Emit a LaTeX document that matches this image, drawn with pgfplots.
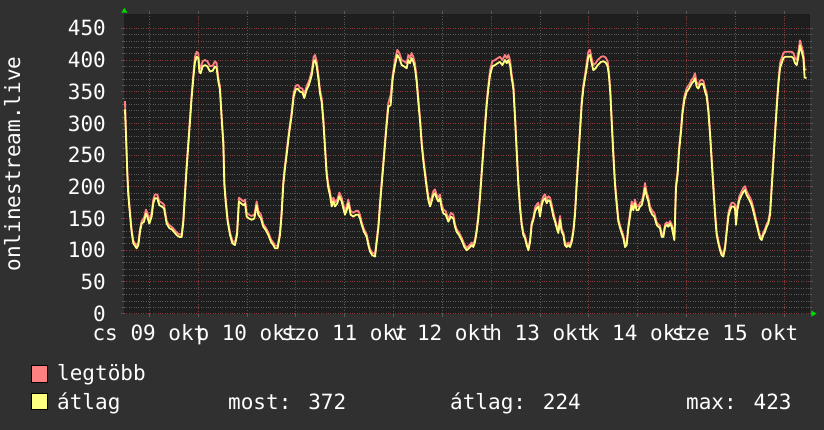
\documentclass[border=0pt]{standalone}
\usepackage{fontspec}
\setmainfont{DejaVu Sans Mono}
\usepackage{pgfplots}
\pgfplotsset{compat=1.18}

\definecolor{outerbg}{HTML}{303030}
\definecolor{canvasbg}{HTML}{1E1E1E}
\definecolor{mingrid}{HTML}{5A5A5A}
\definecolor{majgrid}{HTML}{8A3A3A}
\definecolor{maxcol}{HTML}{FF8080}
\definecolor{avgcol}{HTML}{FFFF80}
\definecolor{arrowgreen}{HTML}{00DD00}
\newcommand{\fsz}{\fontsize{21}{25}\selectfont}

\begin{document}
\begin{tikzpicture}
\fill[outerbg] (0,0) rectangle (824pt,430pt);
\begin{axis}[
  at={(124pt,116.4pt)}, anchor=south west,
  scale only axis, width=685.5pt, height=299.6pt,
  xmin=0.239, xmax=7.262, ymin=0, ymax=472.6,
  axis background/.style={fill=canvasbg},
  axis line style={draw=none},
  xtick={1,...,7}, xticklabels={},
  extra x ticks={0.5,1.5,...,6.5},
  extra x tick labels={cs 09 okt, p 10 okt, szo 11 okt, v 12 okt, h 13 okt, k 14 okt, sze 15 okt},
  extra x tick style={grid=major, major grid style={draw=mingrid, dotted, line width=0.8pt}},
  ytick={0,50,...,450},
  yticklabels={0,50,100,150,200,250,300,350,400,450},
  minor y tick num=4,
  grid=both,
  major grid style={draw=majgrid, dotted, line width=0.8pt},
  minor grid style={draw=mingrid, dotted, line width=0.8pt},
  tick align=outside, major tick length=3pt, minor tick length=2pt,
  every tick/.style={draw=mingrid, line width=0.8pt},
  xticklabel style={font=\fsz, text=white, anchor=base, yshift=-24.4pt},
  yticklabel style={font=\fsz, text=white, anchor=east, inner sep=0pt, xshift=-15pt},
]
\addplot[draw=maxcol, line width=1.8pt, no markers, line join=round] coordinates {
(0.249,335)(0.259,288)(0.273,225)(0.283,193)(0.300,162)(0.317,133)(0.334,115)(0.351,111)(0.369,107)(0.386,112)(0.403,133)(0.420,146)(0.444,151)(0.464,164)(0.478,159)(0.498,146)(0.522,159)(0.539,180)(0.556,188)(0.580,188)(0.601,177)(0.625,175)(0.649,172)(0.676,146)(0.703,139)(0.727,137)(0.751,133)(0.778,128)(0.806,125)(0.830,125)(0.847,149)(0.864,193)(0.881,235)(0.898,272)(0.915,309)(0.932,346)(0.949,377)(0.966,405)(0.983,413)(1.000,411)(1.011,390)(1.024,387)(1.045,398)(1.069,400)(1.093,398)(1.120,390)(1.147,391)(1.171,398)(1.188,395)(1.205,372)
(1.222,359)(1.239,314)(1.257,272)(1.267,209)(1.280,183)(1.301,149)(1.325,128)(1.349,115)(1.376,112)(1.397,128)(1.417,183)(1.438,180)(1.461,177)(1.479,180)(1.496,159)(1.520,156)(1.547,154)(1.574,156)(1.598,177)(1.615,162)(1.642,156)(1.666,141)(1.690,136)(1.718,128)(1.745,117)(1.769,112)(1.786,107)(1.813,107)(1.837,128)(1.854,162)(1.871,209)(1.888,235)(1.905,256)(1.929,288)(1.957,319)(1.977,348)(1.998,359)(2.018,361)(2.042,356)(2.066,355)(2.086,346)(2.110,359)(2.134,367)(2.162,382)(2.182,405)
(2.196,408)(2.213,398)(2.230,377)(2.247,353)(2.264,340)(2.281,309)(2.298,267)(2.315,225)(2.332,204)(2.349,193)(2.367,175)(2.384,183)(2.401,175)(2.425,180)(2.445,191)(2.469,183)(2.486,172)(2.503,162)(2.520,169)(2.537,180)(2.561,162)(2.589,159)(2.616,162)(2.640,162)(2.657,156)(2.674,144)(2.698,133)(2.725,125)(2.742,112)(2.759,102)(2.783,96)(2.811,94)(2.828,117)(2.845,139)(2.862,177)(2.879,209)(2.896,240)(2.913,272)(2.930,304)(2.947,332)(2.971,345)(2.992,377)(3.015,400)(3.039,416)(3.060,411)(3.084,400)(3.108,398)(3.135,395)
(3.152,408)(3.169,403)(3.186,411)(3.203,405)(3.220,395)(3.237,372)(3.254,340)(3.272,309)(3.289,272)(3.306,246)(3.323,225)(3.340,204)(3.357,185)(3.374,175)(3.391,183)(3.408,193)(3.425,196)(3.442,188)(3.459,183)(3.476,188)(3.494,172)(3.511,164)(3.534,162)(3.562,149)(3.589,159)(3.613,156)(3.630,141)(3.647,133)(3.671,128)(3.698,120)(3.726,109)(3.750,104)(3.773,107)(3.801,112)(3.818,109)(3.835,117)(3.852,133)(3.869,156)(3.886,188)(3.903,225)(3.920,261)(3.937,298)(3.955,335)(3.972,361)(3.989,384)(4.013,398)(4.040,400)(4.067,403)(4.091,405)(4.115,400)
(4.142,408)(4.160,403)(4.177,408)(4.194,400)(4.211,377)(4.228,361)(4.245,314)(4.262,261)(4.279,209)(4.296,172)(4.313,144)(4.330,128)(4.347,123)(4.364,112)(4.382,104)(4.399,117)(4.416,144)(4.433,152)(4.450,167)(4.467,172)(4.484,175)(4.501,159)(4.518,177)(4.535,185)(4.552,188)(4.569,180)(4.586,185)(4.603,183)(4.621,172)(4.638,159)(4.655,149)(4.672,139)(4.689,131)(4.706,154)(4.723,133)(4.740,128)(4.757,112)(4.774,109)(4.791,112)(4.808,109)(4.826,117)(4.843,133)(4.860,162)(4.877,209)(4.894,251)(4.911,293)(4.928,335)(4.945,361)(4.962,377)(4.979,395)(4.996,413)(5.013,416)(5.030,403)(5.047,392)(5.071,395)(5.092,400)
(5.126,405)(5.150,406)(5.174,404)(5.194,398)(5.208,380)(5.222,351)(5.235,309)(5.252,256)(5.269,209)(5.287,177)(5.304,149)(5.321,139)(5.338,131)(5.355,123)(5.372,109)(5.389,112)(5.406,139)(5.423,159)(5.440,177)(5.457,169)(5.474,180)(5.491,169)(5.508,169)(5.526,175)(5.543,177)(5.560,188)(5.577,206)(5.594,191)(5.611,183)(5.628,169)(5.652,162)(5.672,159)(5.696,144)(5.713,141)(5.730,139)(5.748,125)(5.765,125)(5.782,141)(5.799,144)(5.816,141)(5.833,146)(5.850,141)(5.867,128)(5.877,122)(5.884,151)(5.894,204)(5.911,225)(5.925,261)(5.946,293)(5.959,319)(5.980,343)(6.004,356)(6.028,361)(6.055,369)(6.072,372)
(6.089,379)(6.106,364)(6.123,361)(6.140,367)(6.157,369)(6.175,367)(6.192,356)(6.209,348)(6.226,324)(6.243,288)(6.260,246)(6.277,204)(6.294,162)(6.311,128)(6.328,115)(6.345,104)(6.362,96)(6.379,94)(6.397,107)(6.414,133)(6.431,159)(6.448,169)(6.465,175)(6.482,175)(6.499,172)(6.509,146)(6.523,169)(6.543,185)(6.567,193)(6.584,198)(6.601,201)(6.618,193)(6.636,188)(6.653,183)(6.670,177)(6.687,167)(6.704,156)(6.721,144)(6.738,133)(6.755,123)(6.772,120)(6.789,128)(6.806,133)(6.823,141)(6.840,146)(6.858,162)(6.875,204)(6.892,246)(6.909,288)(6.926,330)(6.943,367)(6.960,395)(6.977,403)(6.994,411)(7.011,413)(7.028,413)(7.045,413)(7.062,413)(7.079,413)(7.097,411)(7.114,403)(7.131,400)(7.148,413)(7.165,431)(7.182,421)(7.199,411)(7.212,385)(7.233,385)
};
\addplot[draw=avgcol, line width=1.8pt, no markers, line join=round] coordinates {
(0.249,322)(0.259,282)(0.273,219)(0.283,187)(0.300,156)(0.317,129)(0.334,111)(0.351,107)(0.369,103)(0.386,108)(0.403,129)(0.420,142)(0.444,145)(0.464,158)(0.478,153)(0.498,142)(0.522,153)(0.539,174)(0.556,182)(0.580,182)(0.601,171)(0.625,169)(0.649,166)(0.676,142)(0.703,135)(0.727,133)(0.751,129)(0.778,124)(0.806,121)(0.830,121)(0.847,145)(0.864,187)(0.881,229)(0.898,266)(0.915,303)(0.932,340)(0.949,371)(0.966,397)(0.983,405)(1.000,403)(1.011,382)(1.024,379)(1.045,390)(1.069,392)(1.093,390)(1.120,382)(1.147,383)(1.171,390)(1.188,387)(1.205,366)
(1.222,353)(1.239,308)(1.257,266)(1.267,203)(1.280,177)(1.301,145)(1.325,124)(1.349,111)(1.376,108)(1.397,124)(1.417,177)(1.438,174)(1.461,171)(1.479,174)(1.496,153)(1.520,150)(1.547,148)(1.574,150)(1.598,171)(1.615,156)(1.642,150)(1.666,137)(1.690,132)(1.718,124)(1.745,113)(1.769,108)(1.786,103)(1.813,103)(1.837,124)(1.854,156)(1.871,203)(1.888,229)(1.905,250)(1.929,282)(1.957,313)(1.977,342)(1.998,353)(2.018,355)(2.042,350)(2.066,349)(2.086,340)(2.110,353)(2.134,361)(2.162,376)(2.182,397)
(2.196,400)(2.213,390)(2.230,371)(2.247,347)(2.264,334)(2.281,303)(2.298,261)(2.315,219)(2.332,198)(2.349,187)(2.367,169)(2.384,177)(2.401,169)(2.425,174)(2.445,185)(2.469,177)(2.486,166)(2.503,156)(2.520,163)(2.537,174)(2.561,156)(2.589,153)(2.616,156)(2.640,156)(2.657,150)(2.674,140)(2.698,129)(2.725,121)(2.742,108)(2.759,98)(2.783,92)(2.811,90)(2.828,113)(2.845,135)(2.862,171)(2.879,203)(2.896,234)(2.913,266)(2.930,298)(2.947,326)(2.971,329)(2.992,371)(3.015,392)(3.039,408)(3.060,403)(3.084,392)(3.108,390)(3.135,387)
(3.152,400)(3.169,395)(3.186,403)(3.203,397)(3.220,387)(3.237,366)(3.254,334)(3.272,303)(3.289,266)(3.306,240)(3.323,219)(3.340,198)(3.357,179)(3.374,169)(3.391,177)(3.408,187)(3.425,190)(3.442,182)(3.459,177)(3.476,182)(3.494,166)(3.511,158)(3.534,156)(3.562,145)(3.589,153)(3.613,150)(3.630,137)(3.647,129)(3.671,124)(3.698,116)(3.726,105)(3.750,100)(3.773,103)(3.801,108)(3.818,105)(3.835,113)(3.852,129)(3.869,150)(3.886,182)(3.903,219)(3.920,255)(3.937,292)(3.955,329)(3.972,355)(3.989,376)(4.013,390)(4.040,392)(4.067,395)(4.091,397)(4.115,392)
(4.142,400)(4.160,395)(4.177,400)(4.194,392)(4.211,371)(4.228,355)(4.245,308)(4.262,255)(4.279,203)(4.296,166)(4.313,140)(4.330,124)(4.347,119)(4.364,108)(4.382,100)(4.399,113)(4.416,140)(4.433,148)(4.450,161)(4.467,166)(4.484,169)(4.501,153)(4.518,171)(4.535,179)(4.552,182)(4.569,174)(4.586,179)(4.603,177)(4.621,166)(4.638,153)(4.655,145)(4.672,135)(4.689,127)(4.706,148)(4.723,129)(4.740,124)(4.757,108)(4.774,105)(4.791,108)(4.808,105)(4.826,113)(4.843,129)(4.860,156)(4.877,203)(4.894,245)(4.911,287)(4.928,329)(4.945,355)(4.962,371)(4.979,387)(4.996,405)(5.013,408)(5.030,395)(5.047,384)(5.071,387)(5.092,392)
(5.126,397)(5.150,398)(5.174,396)(5.194,390)(5.208,374)(5.222,345)(5.235,303)(5.252,250)(5.269,203)(5.287,171)(5.304,145)(5.321,135)(5.338,127)(5.355,119)(5.372,105)(5.389,108)(5.406,135)(5.423,153)(5.440,171)(5.457,163)(5.474,174)(5.491,163)(5.508,163)(5.526,169)(5.543,171)(5.560,182)(5.577,198)(5.594,185)(5.611,177)(5.628,163)(5.652,156)(5.672,153)(5.696,140)(5.713,137)(5.730,135)(5.748,121)(5.765,121)(5.782,137)(5.799,140)(5.816,137)(5.833,142)(5.850,137)(5.867,124)(5.877,116)(5.884,145)(5.894,198)(5.911,219)(5.925,255)(5.946,287)(5.959,313)(5.980,337)(6.004,350)(6.028,355)(6.055,363)(6.072,366)
(6.089,371)(6.106,358)(6.123,355)(6.140,361)(6.157,363)(6.175,361)(6.192,350)(6.209,342)(6.226,318)(6.243,282)(6.260,240)(6.277,198)(6.294,156)(6.311,124)(6.328,111)(6.345,100)(6.362,92)(6.379,90)(6.397,103)(6.414,129)(6.431,153)(6.448,163)(6.465,169)(6.482,169)(6.499,166)(6.509,140)(6.523,163)(6.543,179)(6.567,187)(6.584,192)(6.601,195)(6.618,187)(6.636,182)(6.653,177)(6.670,171)(6.687,161)(6.704,150)(6.721,140)(6.738,129)(6.755,119)(6.772,116)(6.789,124)(6.806,129)(6.823,137)(6.840,142)(6.858,156)(6.875,198)(6.892,240)(6.909,282)(6.926,324)(6.943,361)(6.960,387)(6.977,395)(6.994,403)(7.011,405)(7.028,405)(7.045,405)(7.062,405)(7.079,405)(7.097,403)(7.114,395)(7.131,392)(7.148,405)(7.165,423)(7.182,413)(7.199,403)(7.212,372)(7.233,372)
};
\end{axis}
% arrows at the ends of the axes
\fill[arrowgreen] (121.3pt,417.3pt) -- (127.5pt,417.3pt) -- (124.4pt,422pt) -- cycle;
\fill[arrowgreen] (811.3pt,113.3pt) -- (811.3pt,119.5pt) -- (816.5pt,116.4pt) -- cycle;
% y label
\node[rotate=90, anchor=base, text=white, font=\fsz] at (20pt,266pt) {onlinestream.live};
% legend
\filldraw[fill=maxcol, draw=black, line width=0.8pt] (31.5pt,48pt) rectangle (47.5pt,64.5pt);
\filldraw[fill=avgcol, draw=black, line width=0.8pt] (31.5pt,20.7pt) rectangle (47.5pt,36.7pt);
\node[anchor=base west, inner sep=0pt, text=white, font=\fsz] at (57pt,49.5pt) {legtöbb};
\node[anchor=base west, inner sep=0pt, text=white, font=\fsz] at (57pt,20.7pt) {átlag};
\node[anchor=base west, inner sep=0pt, text=white, font=\fsz] at (228pt,20.7pt) {most: 372};
\node[anchor=base west, inner sep=0pt, text=white, font=\fsz] at (450pt,20.7pt) {átlag: 224};
\node[anchor=base west, inner sep=0pt, text=white, font=\fsz] at (686pt,20.7pt) {max: 423};
\pgfresetboundingbox
\useasboundingbox (0,0) rectangle (824pt,430pt);
\end{tikzpicture}
\end{document}
